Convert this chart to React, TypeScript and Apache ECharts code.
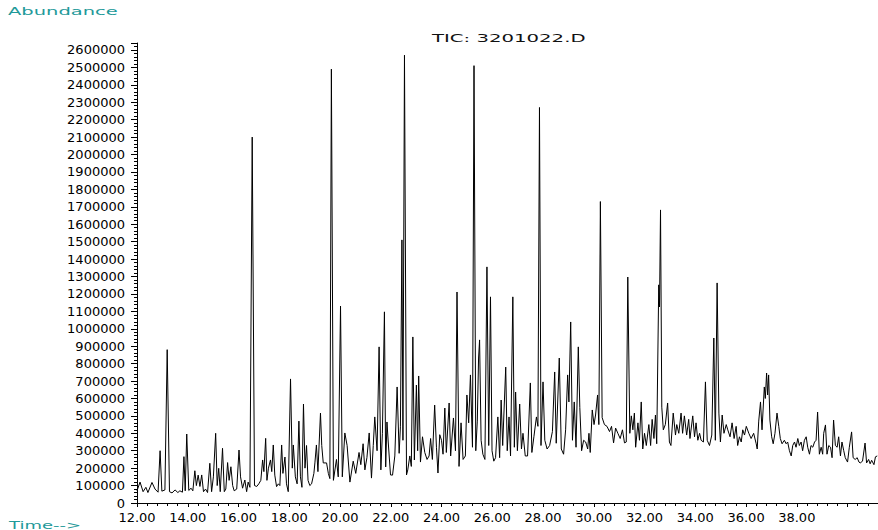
import React, { useEffect, useRef } from "react";
import * as echarts from "echarts";

// TIC trace: [retention time (min), abundance (thousands of counts)]
const trace12to16: [number, number][] = [
  [12.00, 70], [12.12, 120], [12.24, 65], [12.35, 90], [12.43, 60], [12.59, 118], [12.71, 80], [12.83, 62],
  [12.91, 300], [12.98, 68], [13.10, 75], [13.19, 880], [13.28, 65], [13.38, 58], [13.50, 75], [13.61, 60],
  [13.69, 70], [13.79, 62], [13.85, 266], [13.90, 70], [13.96, 396], [14.04, 72], [14.13, 85], [14.20, 70],
  [14.28, 185], [14.34, 100], [14.41, 160], [14.48, 95], [14.55, 161], [14.62, 65], [14.70, 80], [14.78, 60],
  [14.87, 228], [14.94, 65], [15.01, 150], [15.10, 400], [15.16, 100], [15.22, 199], [15.28, 65], [15.37, 314],
  [15.44, 65], [15.50, 80], [15.57, 232], [15.63, 130], [15.70, 208], [15.77, 100], [15.83, 70], [15.93, 80],
  [16.02, 304], [16.08, 150], [16.16, 85], [16.25, 132], [16.32, 65], [16.38, 120], [16.45, 90],
];

const trace16to20: [number, number][] = [
  [16.54, 2100], [16.63, 100], [16.72, 95], [16.80, 110], [16.88, 130], [16.95, 247], [17.00, 180], [17.07, 371],
  [17.12, 130], [17.18, 200], [17.26, 247], [17.31, 180], [17.37, 333], [17.43, 160], [17.50, 94], [17.57, 110],
  [17.63, 100], [17.70, 333], [17.75, 170], [17.83, 264], [17.89, 110], [17.96, 65], [18.05, 712], [18.12, 200],
  [18.16, 333], [18.24, 150], [18.31, 110], [18.38, 470], [18.44, 150], [18.50, 90], [18.56, 568], [18.62, 200],
  [18.68, 330], [18.74, 130], [18.81, 100], [18.88, 110], [18.97, 170], [19.01, 230], [19.07, 333], [19.13, 180],
  [19.23, 516], [19.28, 330], [19.34, 230], [19.47, 230], [19.54, 170], [19.60, 140], [19.66, 2490], [19.74, 130],
  [19.86, 250], [19.93, 150],
];

const trace20to24: [number, number][] = [
  [20.02, 1130], [20.09, 150], [20.19, 402], [20.28, 330], [20.39, 120], [20.52, 240], [20.62, 170], [20.75, 290],
  [20.82, 220], [20.91, 340], [20.98, 190], [21.06, 260], [21.15, 402], [21.24, 143], [21.31, 330], [21.37, 494],
  [21.46, 300], [21.54, 896], [21.61, 190], [21.67, 400], [21.75, 1097], [21.80, 207], [21.85, 465], [21.90, 350],
  [21.99, 161], [22.07, 160], [22.16, 270], [22.25, 666], [22.33, 285], [22.38, 437], [22.44, 1510], [22.48, 360],
  [22.54, 2570], [22.62, 161], [22.67, 190], [22.75, 270], [22.81, 210], [22.87, 953], [22.93, 247], [23.01, 677],
  [23.06, 300], [23.10, 729], [23.17, 235], [23.25, 380], [23.34, 290], [23.43, 250], [23.51, 270], [23.57, 370],
  [23.64, 250], [23.73, 562], [23.80, 320], [23.86, 172], [23.93, 392],
];

const trace24to28: [number, number][] = [
  [24.00, 360], [24.06, 280], [24.13, 545], [24.19, 290], [24.30, 574], [24.36, 270], [24.47, 488], [24.55, 300],
  [24.61, 1211], [24.69, 210], [24.77, 460], [24.85, 250], [24.94, 270], [25.00, 620], [25.07, 460], [25.14, 735],
  [25.22, 320], [25.28, 2510], [25.35, 300], [25.41, 470], [25.46, 832], [25.50, 936], [25.56, 360], [25.63, 280],
  [25.71, 250], [25.79, 1355], [25.86, 330], [25.93, 1183], [25.99, 300], [26.06, 240], [26.13, 260], [26.22, 494],
  [26.29, 260], [26.35, 591], [26.41, 330], [26.53, 780], [26.59, 300], [26.66, 494], [26.72, 270], [26.81, 1183],
  [26.87, 320], [26.92, 637], [26.99, 300], [27.08, 568], [27.15, 310], [27.21, 400], [27.30, 270], [27.39, 270],
  [27.50, 689], [27.56, 290], [27.64, 380], [27.74, 494], [27.80, 440], [27.86, 2270], [27.92, 330],
];

const trace28to32: [number, number][] = [
  [28.00, 695], [28.07, 360], [28.16, 310], [28.26, 330], [28.37, 410], [28.46, 752], [28.52, 343], [28.64, 832],
  [28.72, 310], [28.81, 280], [28.89, 420], [28.97, 735], [29.02, 580], [29.09, 1039], [29.16, 360], [29.23, 580],
  [29.30, 320], [29.39, 896], [29.45, 547], [29.52, 300], [29.60, 360], [29.68, 350], [29.76, 310], [29.81, 400],
  [29.86, 290], [29.94, 534], [30.01, 450], [30.07, 505], [30.15, 620], [30.20, 450], [30.26, 1730], [30.33, 490],
  [30.42, 450], [30.52, 440], [30.62, 410], [30.70, 440], [30.78, 345], [30.86, 430], [30.95, 400], [31.04, 370],
  [31.13, 420], [31.21, 345], [31.28, 350], [31.34, 1297], [31.42, 400], [31.48, 500], [31.54, 420], [31.60, 516],
  [31.65, 320], [31.74, 460], [31.80, 360], [31.87, 580], [31.93, 310],
];

const trace32to36: [number, number][] = [
  [32.00, 400], [32.07, 330], [32.17, 450], [32.24, 330], [32.30, 480], [32.37, 370], [32.43, 505], [32.48, 340],
  [32.56, 1252], [32.59, 1125], [32.63, 1682], [32.68, 550], [32.74, 420], [32.82, 450], [32.91, 574], [32.98, 350],
  [33.04, 330], [33.13, 516], [33.22, 390], [33.27, 450], [33.35, 400], [33.44, 516], [33.50, 400], [33.57, 500],
  [33.66, 390], [33.74, 480], [33.79, 370], [33.90, 500], [33.97, 380], [34.03, 460], [34.10, 360], [34.17, 400],
  [34.23, 360], [34.32, 350], [34.40, 695], [34.47, 360], [34.56, 330], [34.65, 390], [34.73, 947], [34.79, 360],
  [34.86, 1263], [34.93, 516], [34.99, 350], [35.06, 505], [35.13, 400], [35.22, 450], [35.28, 420], [35.37, 380],
  [35.45, 460], [35.53, 370], [35.61, 440], [35.67, 330], [35.74, 380], [35.81, 350], [35.87, 420], [35.94, 390],
];

const trace36to41: [number, number][] = [
  [36.01, 440], [36.11, 400], [36.20, 370], [36.30, 400], [36.40, 340], [36.44, 310], [36.50, 470], [36.57, 580],
  [36.63, 420], [36.72, 666], [36.76, 600], [36.81, 746], [36.85, 620], [36.89, 735], [36.94, 476], [37.01, 380],
  [37.07, 340], [37.14, 400], [37.22, 516], [37.29, 440], [37.35, 370], [37.42, 340], [37.51, 360], [37.58, 340],
  [37.64, 350], [37.71, 300], [37.78, 270], [37.84, 330], [37.91, 350], [37.97, 320], [38.04, 370], [38.10, 330],
  [38.17, 350], [38.23, 300], [38.30, 360], [38.37, 380], [38.43, 320], [38.50, 280], [38.56, 330], [38.63, 320],
  [38.70, 350], [38.76, 360], [38.82, 522], [38.89, 280], [38.96, 320], [39.02, 280], [39.06, 400], [39.13, 448],
  [39.19, 280], [39.26, 330], [39.33, 320], [39.39, 260], [39.45, 476], [39.52, 330], [39.59, 320], [39.65, 380],
  [39.72, 270], [39.78, 350], [39.85, 300], [39.91, 260], [40.00, 235], [40.07, 320], [40.16, 408], [40.22, 260],
  [40.30, 250], [40.38, 260], [40.45, 235], [40.50, 230], [40.59, 240], [40.69, 344], [40.75, 230], [40.83, 250],
  [40.89, 225], [40.95, 245], [41.04, 220], [41.10, 265], [41.17, 270],
];

const chartTitle = "TIC: 3201022.D";
const yAxisTitle = "Abundance";
const xAxisTitle = "Time-->";
const timeRange = [12, 41.2];
const timeTickStep = 2;
const abundanceRange = [0, 2640000];
const abundanceTickStep = 100000;

const teal = "#1f9a9a";
const font = "DejaVu Sans";

export default function App() {
  const ref = useRef<HTMLDivElement>(null);

  useEffect(() => {
    if (!ref.current) return;
    const chart = echarts.init(ref.current, null, { renderer: "svg" });
    const data = [
      ...trace12to16, ...trace16to20, ...trace20to24, ...trace24to28,
      ...trace28to32, ...trace32to36, ...trace36to41,
    ].map(([t, a]) => [t, a * 1000]);

    chart.setOption({
      animation: false,
      backgroundColor: "#ffffff",
      grid: { left: 137, right: 0, top: 43, bottom: 27, containLabel: false, outerBoundsMode: "none" },
      xAxis: {
        type: "value",
        min: timeRange[0],
        max: timeRange[1],
        interval: timeTickStep,
        axisLine: { show: true, onZero: false, lineStyle: { color: "#000", width: 1 } },
        axisTick: { show: true, length: 4, lineStyle: { color: "#000", width: 1 } },
        minorTick: { show: true, splitNumber: 5, length: 3, lineStyle: { color: "#000", width: 1 } },
        splitLine: { show: false },
        minorSplitLine: { show: false },
        axisLabel: {
          color: "#000",
          fontFamily: font,
          fontSize: 13,
          lineHeight: 12,
          margin: 8,
          formatter: (v: number) => (v > 39.5 ? "" : v.toFixed(2)),
        },
      },
      yAxis: {
        type: "value",
        min: abundanceRange[0],
        max: abundanceRange[1],
        interval: abundanceTickStep,
        axisLine: { show: true, lineStyle: { color: "#000", width: 1 } },
        axisTick: { show: true, length: 6, lineStyle: { color: "#000", width: 1 } },
        minorTick: { show: true, splitNumber: 5, length: 3, lineStyle: { color: "#000", width: 1 } },
        splitLine: { show: false },
        minorSplitLine: { show: false },
        axisLabel: {
          color: "#000",
          fontFamily: font,
          fontSize: 13,
          lineHeight: 10,
          margin: 12,
          formatter: (v: number) => (v % abundanceTickStep === 0 ? String(v) : ""),
        },
      },
      series: [
        {
          type: "line",
          data,
          showSymbol: false,
          symbol: "none",
          clip: true,
          lineStyle: { color: "#000", width: 1 },
          itemStyle: { color: "#000" },
        },
      ],
      graphic: [
        {
          type: "text",
          x: 8,
          y: 7,
          scaleX: 1.95,
          style: { text: yAxisTitle, fontFamily: font, fontSize: 10, fill: teal },
        },
        {
          type: "text",
          x: 432,
          y: 34,
          scaleX: 1.97,
          style: { text: chartTitle, fontFamily: font, fontSize: 10, fill: "#111" },
        },
        {
          type: "text",
          x: 9,
          y: 520,
          scaleX: 1.8,
          style: { text: xAxisTitle, fontFamily: font, fontSize: 10, fill: teal },
        },
      ],
    });

    return () => chart.dispose();
  }, []);

  return (
    <div
      ref={ref}
      style={{ position: "fixed", left: 0, top: 0, width: 878, height: 530, background: "#fff" }}
    />
  );
}
